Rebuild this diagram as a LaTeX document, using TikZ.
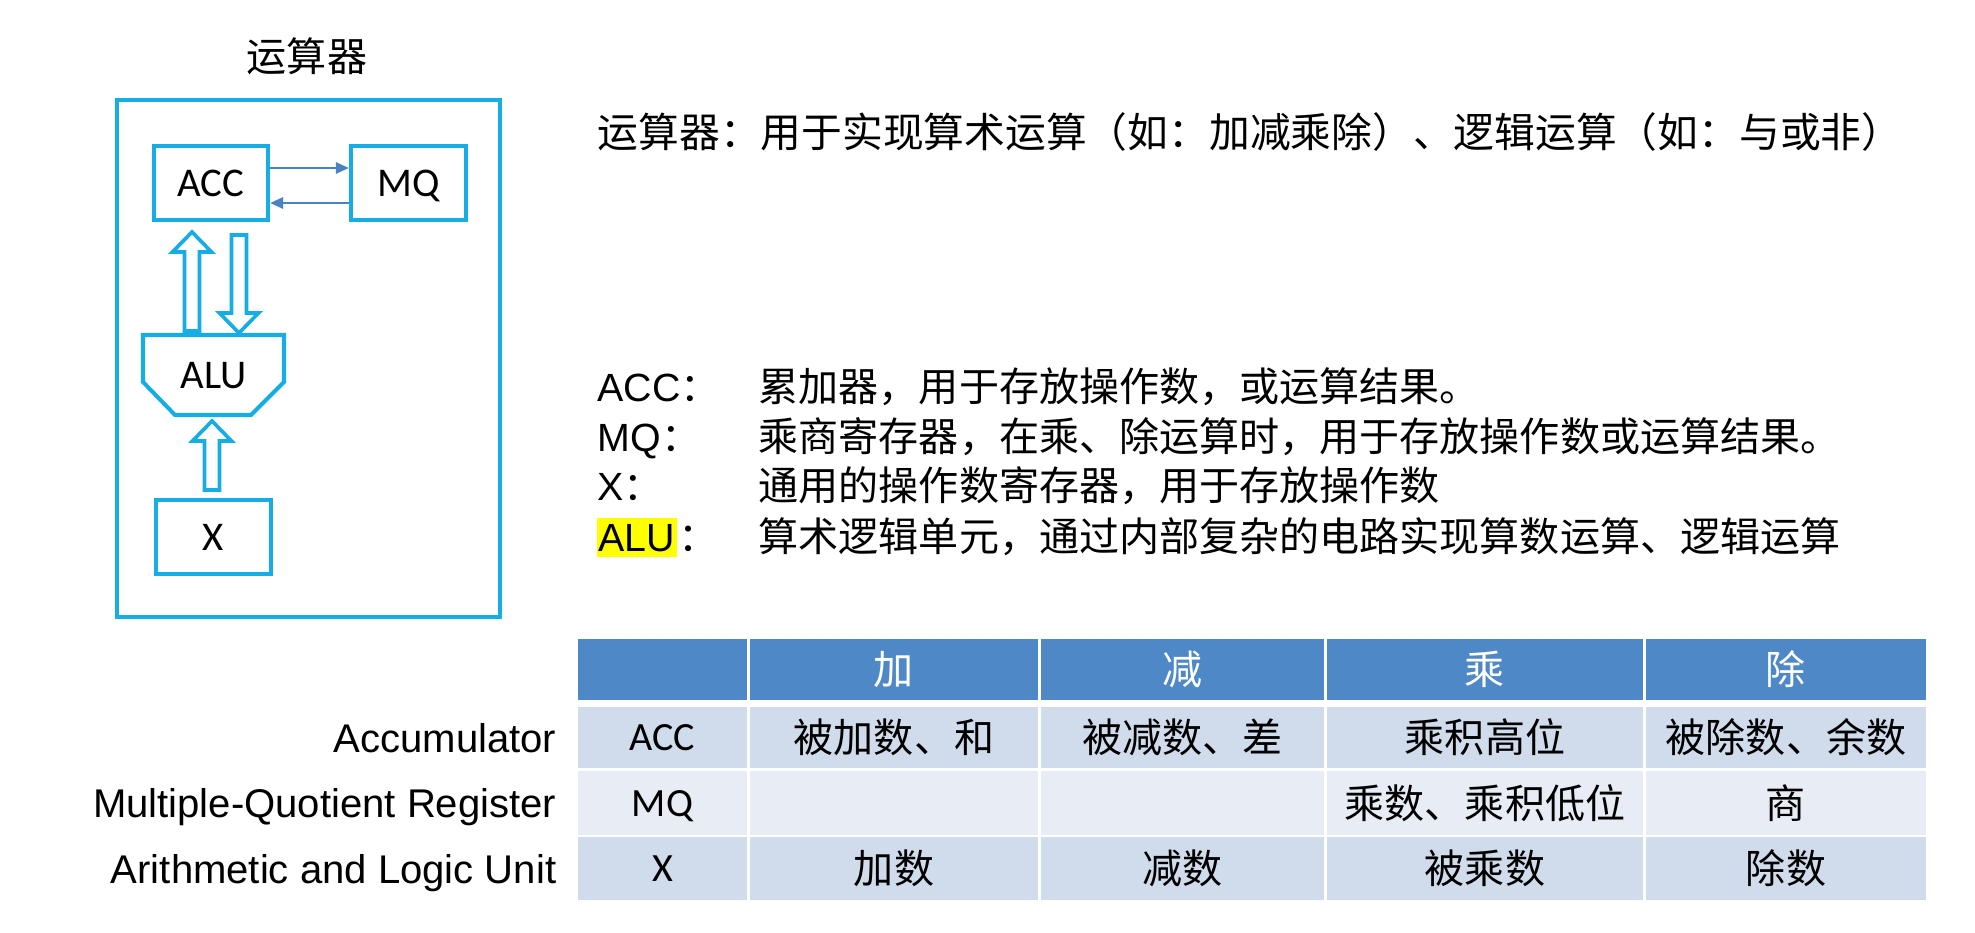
\documentclass[tikz,border=0pt]{standalone}
\usepackage{fontspec}
\setmainfont{Liberation Sans}
\newfontfamily\cjk{Noto Sans CJK SC}
\newfontfamily\calib{Carlito}
\usetikzlibrary{arrows.meta,calc}
\definecolor{boxblue}{RGB}{22,172,228}
\definecolor{linkblue}{RGB}{74,130,196}
\definecolor{headblue}{RGB}{79,136,198}
\definecolor{bandA}{RGB}{208,220,235}
\definecolor{bandB}{RGB}{232,237,245}
\definecolor{marker}{RGB}{255,255,0}

\begin{document}
\begin{tikzpicture}[
        reg/.style={draw=boxblue,line width=1.15pt,minimum width=1.14cm,minimum height=0.74cm,
            inner sep=0pt,text depth=0pt,font=\calib\fontsize{11.6}{13}\selectfont},
        link/.style={draw=linkblue,line width=0.75pt,-{Triangle[length=1.3mm,width=1.1mm]}},
        hollow/.style={draw=boxblue,line width=1.05pt,
            to path={let \p1=(\tikztostart),\p2=(\tikztotarget),\n1={sign(\y2-\y1)} in
            (\x1-0.075cm,\y1) -- (\x1-0.075cm,{\y2-(\n1)*0.2cm}) -- (\x1-0.195cm,{\y2-(\n1)*0.2cm})
            -- (\x1,\y2) -- (\x1+0.195cm,{\y2-(\n1)*0.2cm}) -- (\x1+0.075cm,{\y2-(\n1)*0.2cm})
            -- (\x1+0.075cm,\y1) -- cycle}},
        zh/.style={font=\cjk\fontsize{11.4}{13}\selectfont,inner sep=0pt},
        en/.style={font=\fontsize{11.2}{13}\selectfont,inner sep=0pt,text depth=0pt},
        cal/.style={font=\calib\fontsize{11.4}{13}\selectfont,inner sep=0pt,text depth=0pt}]
\useasboundingbox (0,0) rectangle (19.75,-9.33);

\node[zh] (title) at (3.07,-0.56) {运算器};
\node[draw=boxblue,line width=1.4pt,minimum width=3.83cm,minimum height=5.17cm] (unit) at (3.085,-3.585) {};

\node[reg] (acc) at (2.11,-1.83) {ACC};
\node[reg,minimum width=1.15cm] (mq) at (4.085,-1.83) {MQ};
\node[reg,draw=none,minimum width=1.41cm,minimum height=0.80cm,outer sep=0pt] (alu) at (2.135,-3.75) {ALU};
\node[reg,minimum width=1.15cm] (xreg) at (2.135,-5.37) {X};
\draw[boxblue,line width=1.15pt] (alu.north west) -- (alu.north east) -- ([yshift=0.33cm]alu.south east)
    -- ([xshift=-0.33cm]alu.south east) -- ([xshift=0.32cm]alu.south west) -- ([yshift=0.33cm]alu.south west) -- cycle;

\draw[link] ([yshift=0.15cm]acc.east) -- ([yshift=0.15cm]mq.west);
\draw[link] ([yshift=-0.2cm]mq.west) -- ([yshift=-0.2cm]acc.east);
\draw[hollow] ([xshift=-0.215cm,yshift=0.04cm]alu.north) to ([yshift=-0.1cm]acc.south);
\draw[hollow] ([xshift=0.28cm,yshift=-0.13cm]acc.south) to ([yshift=0.02cm]alu.north);
\draw[hollow] ([xshift=-0.015cm,yshift=0.08cm]xreg.north) to ([yshift=-0.06cm]alu.south);

\node[zh,anchor=base west,font=\cjk\fontsize{11.6}{13}\selectfont] (intro) at (5.97,-1.48) {运算器：用于实现算术运算（如：加减乘除）、逻辑运算（如：与或非）};

\node[en,anchor=base west] (kacc) at (5.97,-4.01) {ACC{\cjk：}};
\node[en,anchor=base west] (kmq) at (5.97,-4.51) {MQ{\cjk：}};
\node[en,anchor=base west] (kx) at (5.97,-5.01) {X{\cjk：}};
\node[en,anchor=base west,fill=marker,inner xsep=0.02cm,inner ysep=0.06cm] (kalu) at (5.96,-5.51) {ALU};
\node[zh,anchor=base west] (kcolon) at (kalu.base east) {：};
\node[zh,anchor=base west] (vacc) at (7.58,-4.01) {累加器，用于存放操作数，或运算结果。};
\node[zh,anchor=base west] (vmq) at (7.58,-4.51) {乘商寄存器，在乘、除运算时，用于存放操作数或运算结果。};
\node[zh,anchor=base west] (vx) at (7.58,-5.01) {通用的操作数寄存器，用于存放操作数};
\node[zh,anchor=base west] (valu) at (7.58,-5.51) {算术逻辑单元，通过内部复杂的电路实现算数运算、逻辑运算};

\fill[headblue] (5.78,-6.39) rectangle (19.26,-7.00);
\fill[bandA] (5.78,-7.07) rectangle (19.26,-7.68);
\fill[bandB] (5.78,-7.71) rectangle (19.26,-8.35);
\fill[bandA] (5.78,-8.37) rectangle (19.26,-9.00);
\foreach \x in {7.485,10.395,13.255,16.445}
    \draw[white,line width=0.03cm] (\x,-6.39) -- (\x,-9.00);

\foreach \t/\x [count=\i] in {加/8.94,减/11.825,乘/14.85,除/17.86}
    \node[zh,white] (h\i) at (\x,-6.695) {\t};
\foreach \t/\x [count=\i] in {被加数、和/8.94,被减数、差/11.825,乘积高位/14.85,被除数、余数/17.86}
    \node[zh] (a\i) at (\x,-7.375) {\t};
\node[zh] (m3) at (14.85,-8.03) {乘数、乘积低位};
\node[zh] (m4) at (17.86,-8.03) {商};
\foreach \t/\x [count=\i] in {加数/8.94,减数/11.825,被乘数/14.85,除数/17.86}
    \node[zh] (x\i) at (\x,-8.685) {\t};

\node[cal] (racc) at (6.625,-7.375) {ACC};
\node[cal] (rmq) at (6.625,-8.03) {MQ};
\node[cal] (rx) at (6.625,-8.685) {X};
\node[en,anchor=east,font=\fontsize{11.4}{13}\selectfont] (nacc) at (5.57,-7.375) {Accumulator};
\node[en,anchor=east,font=\fontsize{11.4}{13}\selectfont] (nmq) at (5.57,-8.03) {Multiple-Quotient Register};
\node[en,anchor=east,font=\fontsize{11.4}{13}\selectfont] (nx) at (5.57,-8.685) {Arithmetic and Logic Unit};
\end{tikzpicture}
\end{document}
